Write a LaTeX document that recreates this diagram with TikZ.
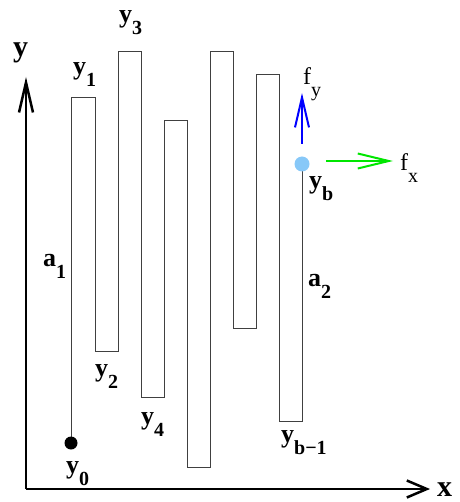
\documentclass[tikz,border=0pt]{standalone}
\usepackage{fontspec}
\setmainfont{Liberation Serif}
\usetikzlibrary{arrows.meta}
\definecolor{dotblue}{RGB}{135,200,248}
\definecolor{fgreen}{RGB}{0,230,0}
% lowered index, set a little smaller
\newcommand\sbs[1]{\raisebox{-12pt}{\fontsize{20}{20}\selectfont #1}}
\begin{document}
\begin{tikzpicture}[x=1pt, y=-1pt, line join=miter, font=\fontsize{26}{26}\selectfont\bfseries,
	lab/.style={inner sep=0pt, anchor=base west},
	axlab/.style={lab, font=\fontsize{30}{30}\selectfont\bfseries},
	flab/.style={lab, font=\fontsize{24}{24}\selectfont\mdseries}]
	\useasboundingbox (0,0) rectangle (459,502);
	\path (26,489) coordinate (O)
		(26,77) coordinate (Y)
		(430,489) coordinate (X)
		(71,443) coordinate (y0)
		(302,164) coordinate (yb)
		(302,144) coordinate (fy0)
		(302,93) coordinate (fy1)
		(326,161) coordinate (fx0)
		(393,161) coordinate (fx1);
	\draw[line width=2.5pt, -{Straight Barb[length=30pt,width=14pt]}] (O)--(Y);
	\draw[line width=2.5pt, -{Straight Barb[length=20pt,width=17pt]}] (O)--(X);
	\draw[black!75, line width=1pt] (y0) |- (95,98) |- (118,351) |- (141,52) |- (164,397)
		|- (187,121) |- (210,467) |- (233,52) |- (256,328) |- (279,75) |- (302,421) -- (yb);
	\draw[blue, line width=2pt, -{Straight Barb[length=30pt,width=14pt]}] (fy0)--(fy1);
	\draw[fgreen, line width=2pt, -{Straight Barb[length=31pt,width=15pt]}] (fx0)--(fx1);
	\fill (y0) circle(6.5pt);
	\fill[dotblue] (yb) circle(7.5pt);
	\node[axlab] (ly) at (13,57) {y};
	\node[axlab] (lx) at (437,496) {x};
	\foreach \n/\x/\y/\t/\s in {l0/66/473.5/y/0, l1/73/74.5/y/1, l2/95/376.5/y/2, l3/119/22.5/y/3,
		l4/141/424.5/y/4, lb/309/188.5/y/b, la1/43/266.5/a/1, la2/308/286.5/a/2}
		\node[lab] (\n) at (\x,\y) {\t\sbs{\s}};
	\node[lab] (lb1) at (281,442) {y\sbs{b\char"2212 1}};
	\node[flab] (lfy) at (303,85) {f\sbs{y}};
	\node[flab] (lfx) at (400,171) {f\sbs{x}};
\end{tikzpicture}
\end{document}
